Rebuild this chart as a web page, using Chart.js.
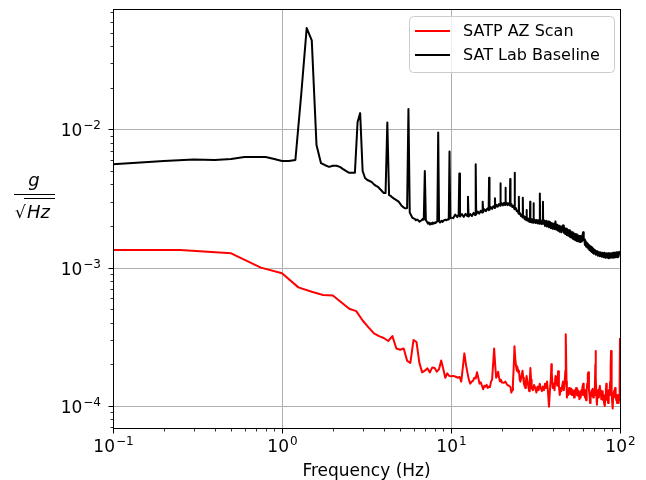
<!DOCTYPE html>
<html>
<head>
<meta charset="utf-8">
<script src="https://cdn.jsdelivr.net/npm/chart.js@4.4.1/dist/chart.umd.min.js"></script>
<style>
  html, body { margin: 0; padding: 0; background: #fff; }
  canvas { display: block; }
</style>
</head>
<body>
<canvas id="psd" width="646" height="480"></canvas>
<script>
// SATP AZ scan, 0.25 Hz bins
const redFreq = [
  0.1, 0.25, 0.5, 0.75, 1, 1.25, 1.5, 1.75, 2, 2.25,
  2.5, 2.75, 3, 3.25, 3.5, 3.75, 4, 4.25, 4.5, 4.75,
  5, 5.25, 5.5, 5.75, 6, 6.25, 6.5, 6.75, 7, 7.25,
  7.5, 7.75, 8, 8.25, 8.5, 8.75, 9, 9.25, 9.5, 9.75,
  10, 10.25, 10.5, 10.75, 11, 11.25, 11.5, 11.75, 12, 12.25,
  12.5, 12.75, 13, 13.25, 13.5, 13.75, 14, 14.25, 14.5, 14.75,
  15, 15.25, 15.5, 15.75, 16, 16.25, 16.5, 16.75, 17, 17.25,
  17.5, 17.75, 18, 18.25, 18.5, 18.75, 19, 19.25, 19.5, 19.75,
  20, 20.5, 21, 21.5, 22, 22.5, 22.75, 23, 23.25, 23.5,
  23.75, 24, 24.25, 24.5, 24.75, 25, 25.25, 25.5, 25.75, 26,
  26.5, 26.75, 27, 27.5, 27.75, 28, 28.5, 29, 29.25, 29.5,
  29.75, 30, 30.5, 31, 31.5, 32, 32.5, 33, 33.5, 34,
  34.5, 35, 35.5, 36, 36.5, 37, 37.5, 38, 38.5, 39,
  39.25, 39.5, 40, 40.5, 41, 41.5, 42, 42.5, 43, 43.5,
  44, 44.5, 45, 45.5, 46, 46.5, 47, 47.5, 47.75, 48.25,
  48.5, 49, 49.5, 50, 50.5, 51, 51.5, 52, 52.5, 53,
  53.5, 54, 54.5, 55, 55.5, 56, 56.5, 57, 57.5, 58,
  58.5, 59, 59.5, 60, 60.5, 61, 61.5, 62, 62.5, 63,
  63.5, 64, 64.5, 65, 65.5, 66, 66.5, 67, 67.5, 68,
  68.5, 69, 69.5, 70, 70.5, 71, 71.5, 71.75, 72, 72.5,
  73, 73.5, 74, 74.5, 75, 75.5, 76, 76.5, 77, 77.5,
  78, 78.5, 79, 79.5, 80, 80.5, 81, 81.5, 82, 82.5,
  83, 83.5, 84, 84.5, 85, 85.5, 86, 86.5, 87, 87.5,
  88, 88.5, 89, 89.5, 90, 90.5, 91, 91.5, 92, 92.5,
  93, 93.5, 94, 94.5, 95, 95.5, 96, 96.5, 97, 97.5,
  98, 98.5, 99, 99.5, 100
];
const redPsd = [
  1.34e-3, 1.34e-3, 1.27e-3, 1.0e-3, 9.1e-4, 7.2e-4, 6.7e-4, 6.35e-4, 6.3e-4, 5.6e-4,
  5.05e-4, 4.85e-4, 4.15e-4, 3.7e-4, 3.35e-4, 3.2e-4, 3.1e-4, 2.95e-4, 3.2e-4, 2.6e-4,
  2.55e-4, 2.6e-4, 2.12e-4, 2.05e-4, 3.0e-4, 2.9e-4, 2.05e-4, 1.75e-4, 1.8e-4, 1.87e-4,
  1.75e-4, 1.9e-4, 1.88e-4, 1.77e-4, 1.85e-4, 2.13e-4, 1.85e-4, 1.6e-4, 1.72e-4, 1.65e-4,
  1.64e-4, 1.65e-4, 1.64e-4, 1.62e-4, 1.6e-4, 1.62e-4, 1.5e-4, 1.9e-4, 2.4e-4, 2.0e-4,
  1.75e-4, 1.55e-4, 1.45e-4, 1.5e-4, 1.52e-4, 1.6e-4, 1.58e-4, 1.75e-4, 1.6e-4, 1.45e-4,
  1.48e-4, 1.4e-4, 1.32e-4, 1.4e-4, 1.38e-4, 1.42e-4, 1.35e-4, 1.38e-4, 1.37e-4, 1.5e-4,
  1.55e-4, 2.0e-4, 2.6e-4, 2.0e-4, 1.6e-4, 1.65e-4, 1.77e-4, 1.6e-4, 1.5e-4, 1.55e-4,
  1.48e-4, 1.47e-4, 1.5e-4, 1.42e-4, 1.4e-4, 1.37e-4, 1.25e-4, 1.3e-4, 1.45e-4, 1.9e-4,
  2.7e-4, 2.2e-4, 1.95e-4, 1.8e-4, 1.9e-4, 1.75e-4, 1.8e-4, 1.55e-4, 1.5e-4, 1.6e-4,
  1.8e-4, 1.6e-4, 1.45e-4, 1.35e-4, 1.5e-4, 1.65e-4, 1.45e-4, 1.28e-4, 1.5e-4, 1.88e-4,
  1.55e-4, 1.35e-4, 1.3e-4, 1.42e-4, 1.35e-4, 1.25e-4, 1.38e-4, 1.3e-4, 1.45e-4, 1.35e-4,
  1.28e-4, 1.38e-4, 1.3e-4, 1.45e-4, 1.35e-4, 1.5e-4, 1.25e-4, 9.9e-5, 1.3e-4, 1.6e-4,
  2.0e-4, 1.7e-4, 1.35e-4, 1.45e-4, 1.3e-4, 1.65e-4, 1.6e-4, 1.4e-4, 1.78e-4, 1.4e-4,
  1.2e-4, 1.35e-4, 1.28e-4, 1.4e-4, 1.5e-4, 1.3e-4, 1.45e-4, 1.8e-4, 3.3e-4, 1.5e-4,
  1.15e-4, 1.3e-4, 1.2e-4, 1.35e-4, 1.28e-4, 1.22e-4, 1.33e-4, 1.2e-4, 1.3e-4, 1.24e-4,
  1.15e-4, 1.3e-4, 1.22e-4, 1.35e-4, 1.2e-4, 1.32e-4, 1.18e-4, 1.28e-4, 1.12e-4, 1.25e-4,
  1.15e-4, 1.3e-4, 1.2e-4, 1.38e-4, 1.45e-4, 1.2e-4, 1.3e-4, 1.15e-4, 1.25e-4, 1.1e-4,
  1.3e-4, 1.45e-4, 1.7e-4, 1.75e-4, 1.3e-4, 1.2e-4, 1.05e-4, 1.25e-4, 1.18e-4, 1.3e-4,
  1.2e-4, 1.33e-4, 1.15e-4, 1.28e-4, 1.2e-4, 1.4e-4, 2.0e-4, 2.5e-4, 1.6e-4, 1.2e-4,
  1.02e-4, 1.2e-4, 1.3e-4, 1.15e-4, 1.25e-4, 1.35e-4, 1.4e-4, 1.2e-4, 1.3e-4, 1.12e-4,
  1.25e-4, 1.18e-4, 1.28e-4, 1.1e-4, 1.2e-4, 1.05e-4, 1.15e-4, 1.0e-4, 1.2e-4, 1.3e-4,
  1.45e-4, 1.25e-4, 1.1e-4, 1.22e-4, 1.05e-4, 1.15e-4, 1.3e-4, 1.2e-4, 1.35e-4, 1.5e-4,
  1.9e-4, 2.5e-4, 1.6e-4, 1.2e-4, 1.05e-4, 9.6e-5, 1.15e-4, 1.25e-4, 1.2e-4, 1.3e-4,
  1.22e-4, 1.35e-4, 1.15e-4, 1.25e-4, 1.1e-4, 1.2e-4, 1.05e-4, 1.15e-4, 1.2e-4, 1.05e-4,
  1.08e-4, 1.2e-4, 1.1e-4, 1.5e-4, 3.1e-4
];

// SAT lab baseline, 0.1 Hz bins below 10 Hz
const blackFreq = [
  0.1, 0.2, 0.3, 0.4, 0.5, 0.6, 0.7, 0.8, 0.9, 1.0,
  1.1, 1.2, 1.3, 1.4, 1.5, 1.6, 1.7, 1.8, 1.9, 2.0,
  2.1, 2.2, 2.3, 2.4, 2.5, 2.6, 2.7, 2.8, 2.9, 3.0,
  3.1, 3.2, 3.3, 3.4, 3.5, 3.6, 3.7, 3.8, 3.9, 4.0,
  4.1, 4.2, 4.3, 4.4, 4.5, 4.6, 4.7, 4.8, 4.9, 5.0,
  5.1, 5.2, 5.3, 5.4, 5.5, 5.6, 5.7, 5.8, 5.9, 6.0,
  6.1, 6.2, 6.3, 6.4, 6.5, 6.6, 6.7, 6.8, 6.9, 7.0,
  7.1, 7.2, 7.3, 7.4, 7.5, 7.6, 7.7, 7.8, 7.9, 8.0,
  8.1, 8.2, 8.3, 8.4, 8.5, 8.6, 8.7, 8.8, 8.9, 9.0,
  9.1, 9.2, 9.3, 9.4, 9.5, 9.6, 9.7, 9.8, 9.9, 10.0,
  10.3, 10.6, 10.9, 11.1, 11.2, 11.3, 11.6, 11.9, 12.2, 12.5,
  12.6, 12.7, 13.0, 13.3, 13.6, 13.9, 14.0, 14.1, 14.4, 14.7,
  15.0, 15.3, 15.4, 15.5, 15.8, 16.1, 16.4, 16.7, 16.8, 16.9,
  17.2, 17.5, 17.8, 18.1, 18.2, 18.3, 18.6, 18.9, 19.2, 19.5,
  19.6, 19.7, 20.0, 20.3, 20.6, 20.9, 21.0, 21.1, 21.4, 21.7,
  22.0, 22.3, 22.4, 22.5, 22.8, 23.1, 23.4, 23.7, 23.8, 23.9,
  24.2, 24.5, 24.8, 25.1, 25.2, 25.3, 25.6, 25.9, 26.2, 26.5,
  26.6, 26.7, 27.0, 27.3, 27.6, 27.9, 28.0, 28.1, 28.4, 28.7,
  29.0, 29.3, 29.4, 29.5, 29.8, 30.1, 30.4, 30.7, 30.8, 30.9,
  31.3, 31.7, 32.1, 32.5, 32.9, 33.3, 33.5, 33.6, 33.7, 34.0,
  34.4, 34.9, 35.0, 35.1, 35.5, 36.0, 36.5, 37.0, 37.5, 38.0,
  38.5, 39.0, 39.5, 40.0, 40.5, 41.0, 41.5, 42.0, 42.5, 43.0,
  43.5, 44.0, 44.5, 45.0, 45.5, 46.0, 46.5, 47.0, 47.5, 48.0,
  48.5, 49.0, 49.5, 50.0, 50.5, 51.0, 51.5, 52.0, 52.5, 53.0,
  53.5, 54.0, 54.5, 55.0, 55.5, 56.0, 56.5, 57.0, 57.5, 58.0,
  58.5, 59.0, 59.5, 60.0, 60.5, 61.0, 61.5, 62.0, 62.5, 63.0,
  63.5, 64.0, 64.5, 65.0, 65.5, 66.0, 66.5, 67.0, 67.5, 68.0,
  68.5, 69.0, 69.5, 70, 71, 72, 73, 74, 75, 76,
  77, 78, 79, 80, 81, 82, 83, 84, 85, 86,
  87, 88, 89, 90, 91, 92, 93, 94, 95, 96,
  97, 98, 99, 100
];
const blackPsd = [
  5.6e-3, 5.9e-3, 6.05e-3, 6.0e-3, 6.1e-3, 6.3e-3, 6.3e-3, 6.3e-3, 6.1e-3, 5.9e-3,
  5.9e-3, 6.0e-3, 1.8e-2, 5.4e-2, 4.4e-2, 7.7e-3, 5.7e-3, 5.5e-3, 5.35e-3, 5.45e-3,
  5.45e-3, 5.35e-3, 5.15e-3, 4.98e-3, 4.85e-3, 4.85e-3, 4.85e-3, 1.13e-2, 1.31e-2, 5.0e-3,
  4.45e-3, 4.3e-3, 4.23e-3, 4.15e-3, 4.0e-3, 3.9e-3, 3.83e-3, 3.7e-3, 3.58e-3, 3.46e-3,
  3.46e-3, 1.12e-2, 3.35e-3, 3.3e-3, 3.22e-3, 3.15e-3, 3.1e-3, 3.05e-3, 3.0e-3, 2.9e-3,
  2.8e-3, 2.75e-3, 2.7e-3, 2.68e-3, 2.7e-3, 1.4e-2, 2.5e-3, 2.4e-3, 2.3e-3, 2.27e-3,
  2.25e-3, 2.2e-3, 2.23e-3, 2.2e-3, 2.15e-3, 2.18e-3, 2.2e-3, 2.25e-3, 2.22e-3, 5.0e-3,
  2.2e-3, 2.15e-3, 2.08e-3, 2.12e-3, 2.05e-3, 2.1e-3, 2.06e-3, 2.12e-3, 2.08e-3, 2.12e-3,
  2.1e-3, 2.14e-3, 2.16e-3, 9.5e-3, 2.16e-3, 2.12e-3, 2.15e-3, 2.18e-3, 2.14e-3, 2.18e-3,
  2.2e-3, 2.2e-3, 2.22e-3, 2.2e-3, 2.23e-3, 2.23e-3, 2.25e-3, 6.9e-3, 2.28e-3, 2.3e-3,
  2.28e-3, 2.42e-3, 2.32e-3, 2.42e-3, 4.8e-3, 2.34e-3, 2.44e-3, 2.33e-3, 2.45e-3, 2.36e-3,
  3.26e-3, 2.34e-3, 2.44e-3, 2.36e-3, 2.49e-3, 2.40e-3, 5.6e-3, 2.43e-3, 2.54e-3, 2.46e-3,
  2.58e-3, 2.50e-3, 3.0e-3, 2.52e-3, 2.64e-3, 2.56e-3, 2.68e-3, 2.60e-3, 4.47e-3, 2.62e-3,
  2.74e-3, 2.66e-3, 2.78e-3, 2.70e-3, 3.17e-3, 2.72e-3, 2.84e-3, 2.76e-3, 2.88e-3, 2.80e-3,
  4.07e-3, 2.82e-3, 2.92e-3, 2.82e-3, 2.94e-3, 2.84e-3, 3.78e-3, 2.84e-3, 2.94e-3, 2.83e-3,
  2.92e-3, 2.82e-3, 4.37e-3, 2.80e-3, 2.88e-3, 2.74e-3, 2.80e-3, 2.66e-3, 4.85e-3, 2.64e-3,
  2.70e-3, 2.56e-3, 2.58e-3, 2.46e-3, 3.26e-3, 2.44e-3, 2.48e-3, 2.36e-3, 2.42e-3, 2.30e-3,
  3.2e-3, 2.30e-3, 2.36e-3, 2.24e-3, 2.32e-3, 2.20e-3, 2.61e-3, 2.20e-3, 2.28e-3, 2.16e-3,
  2.26e-3, 2.14e-3, 3.0e-3, 2.14e-3, 2.24e-3, 2.12e-3, 2.22e-3, 2.11e-3, 2.92e-3, 2.12e-3,
  2.22e-3, 2.10e-3, 2.21e-3, 2.09e-3, 2.20e-3, 2.08e-3, 2.18e-3, 3.44e-3, 2.10e-3, 2.20e-3,
  2.07e-3, 2.16e-3, 3.0e-3, 2.08e-3, 2.20e-3, 2.00e-3, 2.18e-3, 1.98e-3, 2.16e-3, 1.96e-3,
  2.14e-3, 1.93e-3, 2.10e-3, 1.91e-3, 2.08e-3, 1.90e-3, 2.16e-3, 1.88e-3, 2.04e-3, 1.85e-3,
  2.02e-3, 1.82e-3, 1.99e-3, 1.80e-3, 1.97e-3, 2.02e-3, 1.79e-3, 1.94e-3, 1.75e-3, 1.91e-3,
  1.72e-3, 1.88e-3, 1.70e-3, 1.86e-3, 1.67e-3, 1.83e-3, 1.65e-3, 1.80e-3, 1.62e-3, 1.78e-3,
  1.60e-3, 1.76e-3, 1.58e-3, 1.74e-3, 1.56e-3, 1.72e-3, 1.55e-3, 1.70e-3, 1.54e-3, 1.69e-3,
  1.53e-3, 1.68e-3, 1.55e-3, 1.72e-3, 1.80e-3, 1.58e-3, 1.60e-3, 1.46e-3, 1.56e-3, 1.42e-3,
  1.52e-3, 1.40e-3, 1.49e-3, 1.37e-3, 1.46e-3, 1.34e-3, 1.43e-3, 1.32e-3, 1.41e-3, 1.30e-3,
  1.38e-3, 1.28e-3, 1.36e-3, 1.26e-3, 1.34e-3, 1.24e-3, 1.32e-3, 1.22e-3, 1.30e-3, 1.21e-3,
  1.29e-3, 1.20e-3, 1.28e-3, 1.19e-3, 1.28e-3, 1.18e-3, 1.27e-3, 1.18e-3, 1.27e-3, 1.17e-3,
  1.27e-3, 1.18e-3, 1.27e-3, 1.18e-3, 1.28e-3, 1.18e-3, 1.28e-3, 1.19e-3, 1.29e-3, 1.19e-3,
  1.29e-3, 1.20e-3, 1.30e-3, 1.24e-3
];

const seriesNames = ['SATP AZ Scan', 'SAT Lab Baseline'];
const seriesColors = ['#ff0000', '#000000'];
const xDecades = [-1, 0, 1, 2];
const yDecades = [-4, -3, -2];
const xLimits = [0.1, 100];
const yLimits = [6.93e-5, 0.0741];

const FONT = '"DejaVu Sans", sans-serif';

function toPoints(xs, ys) {
  return xs.map((x, i) => ({ x: x, y: ys[i] }));
}

// "10" with a raised exponent, the way mathtext sets it
function drawPow10(ctx, exp, x, y, align) {
  const base = '10';
  const sup = exp < 0 ? '\u2212' + (-exp) : String(exp);
  ctx.font = '17px ' + FONT;
  const w1 = ctx.measureText(base).width;
  ctx.font = '12px ' + FONT;
  const w2 = ctx.measureText(sup).width;
  const total = w1 + 1 + w2;
  const sx = align === 'right' ? x - total : x - total / 2;
  ctx.textAlign = 'left';
  ctx.textBaseline = 'alphabetic';
  ctx.font = '17px ' + FONT;
  ctx.fillText(base, sx, y);
  ctx.font = '12px ' + FONT;
  ctx.fillText(sup, sx + w1 + 1, y - 7);
}

function minorValues(decades, lo, hi) {
  const out = [];
  for (let e = decades[0] - 1; e <= decades[decades.length - 1]; e++) {
    for (let m = 2; m <= 9; m++) {
      const v = m * Math.pow(10, e);
      if (v > lo && v < hi) out.push(v);
    }
  }
  return out;
}

const mplAxes = {
  id: 'mplAxes',
  beforeDatasetsDraw(chart) {
    const { ctx, chartArea: a, scales } = chart;
    ctx.save();
    ctx.strokeStyle = '#b0b0b0';
    ctx.lineWidth = 1;
    xDecades.forEach(e => {
      const px = Math.round(scales.x.getPixelForValue(Math.pow(10, e))) + 0.5;
      ctx.beginPath(); ctx.moveTo(px, a.top); ctx.lineTo(px, a.bottom); ctx.stroke();
    });
    yDecades.forEach(e => {
      const py = Math.round(scales.y.getPixelForValue(Math.pow(10, e))) + 0.5;
      ctx.beginPath(); ctx.moveTo(a.left, py); ctx.lineTo(a.right, py); ctx.stroke();
    });
    ctx.restore();
  },
  afterDatasetsDraw(chart) {
    const { ctx, chartArea: a, scales } = chart;
    ctx.save();
    // frame
    ctx.strokeStyle = '#000';
    ctx.lineWidth = 1;
    ctx.strokeRect(Math.round(a.left) + 0.5, Math.round(a.top) + 0.5,
      Math.round(a.right - a.left), Math.round(a.bottom - a.top));

    // x ticks
    const bottom = Math.round(a.bottom) + 0.5;
    ctx.fillStyle = '#000';
    xDecades.forEach(e => {
      const px = Math.round(scales.x.getPixelForValue(Math.pow(10, e))) + 0.5;
      ctx.beginPath(); ctx.moveTo(px, bottom); ctx.lineTo(px, bottom + 5); ctx.stroke();
      drawPow10(ctx, e, px, 452, 'center');
    });
    ctx.lineWidth = 0.8;
    minorValues(xDecades, xLimits[0], xLimits[1]).forEach(v => {
      const px = Math.round(scales.x.getPixelForValue(v)) + 0.5;
      ctx.beginPath(); ctx.moveTo(px, bottom); ctx.lineTo(px, bottom + 3); ctx.stroke();
    });

    // y ticks
    const left = Math.round(a.left) + 0.5;
    ctx.lineWidth = 1;
    yDecades.forEach(e => {
      const py = Math.round(scales.y.getPixelForValue(Math.pow(10, e))) + 0.5;
      ctx.beginPath(); ctx.moveTo(left, py); ctx.lineTo(left - 5, py); ctx.stroke();
      drawPow10(ctx, e, 101, py + 6.5, 'right');
    });
    ctx.lineWidth = 0.8;
    minorValues(yDecades, yLimits[0], yLimits[1]).forEach(v => {
      const py = Math.round(scales.y.getPixelForValue(v)) + 0.5;
      ctx.beginPath(); ctx.moveTo(left, py); ctx.lineTo(left - 3, py); ctx.stroke();
    });

    // x title
    ctx.font = '17px ' + FONT;
    ctx.textAlign = 'center';
    ctx.textBaseline = 'alphabetic';
    ctx.fillText('Frequency (Hz)', (a.left + a.right) / 2, 476);

    // y title: g / sqrt(Hz)
    ctx.font = 'italic 18px ' + FONT;
    ctx.fillText('g', 34, 186);
    ctx.lineWidth = 1.2;
    ctx.beginPath(); ctx.moveTo(14, 194.5); ctx.lineTo(55, 194.5); ctx.stroke();
    ctx.font = '17px ' + FONT;
    ctx.textAlign = 'left';
    ctx.fillText('\u221A', 15, 218);
    ctx.lineWidth = 1;
    ctx.beginPath(); ctx.moveTo(24, 198.5); ctx.lineTo(55, 198.5); ctx.stroke();
    ctx.font = 'italic 18px ' + FONT;
    ctx.fillText('Hz', 27, 218);

    // legend
    const lx = 409, ly = 16, lw = 205, lh = 56;
    ctx.fillStyle = 'rgba(255,255,255,0.8)';
    ctx.strokeStyle = '#cccccc';
    ctx.lineWidth = 1;
    ctx.beginPath();
    ctx.roundRect(lx + 0.5, ly + 0.5, lw, lh, 4);
    ctx.fill(); ctx.stroke();
    seriesNames.forEach((name, i) => {
      const y = ly + 15 + i * 24;
      ctx.strokeStyle = seriesColors[i];
      ctx.lineWidth = 2;
      ctx.beginPath(); ctx.moveTo(415, y); ctx.lineTo(450, y); ctx.stroke();
      ctx.fillStyle = '#000';
      ctx.font = '16px ' + FONT;
      ctx.textAlign = 'left';
      ctx.textBaseline = 'middle';
      ctx.fillText(name, 463, y + 1);
    });
    ctx.restore();
  }
};

new Chart(document.getElementById('psd'), {
  type: 'scatter',
  data: {
    datasets: [
      {
        label: seriesNames[1],
        data: toPoints(blackFreq, blackPsd),
        borderColor: seriesColors[1],
        order: 0
      },
      {
        label: seriesNames[0],
        data: toPoints(redFreq, redPsd),
        borderColor: seriesColors[0],
        order: 1
      }
    ]
  },
  options: {
    responsive: false,
    animation: false,
    layout: { padding: { left: 113, right: 26, top: 9, bottom: 52 } },
    elements: {
      line: { borderWidth: 2, tension: 0, fill: false, borderJoinStyle: 'round' },
      point: { radius: 0, hoverRadius: 0 }
    },
    datasets: { scatter: { showLine: true } },
    scales: {
      x: { type: 'logarithmic', min: xLimits[0], max: xLimits[1], bounds: 'data', display: false },
      y: { type: 'logarithmic', min: yLimits[0], max: yLimits[1], bounds: 'data', display: false }
    },
    plugins: {
      legend: { display: false },
      tooltip: { enabled: false }
    }
  },
  plugins: [mplAxes]
});
</script>
</body>
</html>
